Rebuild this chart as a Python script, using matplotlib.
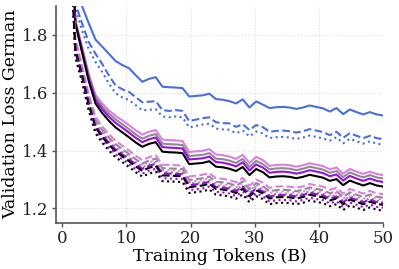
import matplotlib
matplotlib.use("Agg")
import matplotlib.pyplot as plt

plt.rcParams['font.family'] = ['DejaVu Serif']

tokens = [1.04, 2.08, 3.12, 4.17, 5.21, 6.25, 7.29, 8.33, 9.38, 10.42, 11.46, 12.5,
          13.54, 14.58, 15.62, 16.67, 17.71, 18.75, 19.79, 20.83, 21.88, 22.92, 23.96, 25.0,
          26.04, 27.08, 28.12, 29.17, 30.21, 31.25, 32.29, 33.33, 34.38, 35.42, 36.46, 37.5,
          38.54, 39.58, 40.62, 41.67, 42.71, 43.75, 44.79, 45.83, 46.88, 47.92, 48.96, 50.0]

blue_solid = [2.30, 2.02, 1.90, 1.84, 1.784, 1.76, 1.735, 1.71, 1.696, 1.685, 1.661, 1.638,
              1.648, 1.654, 1.621, 1.619, 1.618, 1.616, 1.587, 1.589, 1.591, 1.597, 1.578, 1.576,
              1.571, 1.563, 1.577, 1.549, 1.570, 1.559, 1.547, 1.550, 1.551, 1.549, 1.544, 1.549,
              1.556, 1.551, 1.546, 1.535, 1.547, 1.526, 1.542, 1.533, 1.525, 1.533, 1.525, 1.521]
blue_dashed = [2.20, 1.91, 1.84, 1.775, 1.735, 1.70, 1.66, 1.626, 1.612, 1.603, 1.585, 1.567,
               1.569, 1.571, 1.540, 1.537, 1.540, 1.537, 1.502, 1.507, 1.512, 1.515, 1.498, 1.495,
               1.494, 1.482, 1.491, 1.471, 1.488, 1.481, 1.465, 1.468, 1.469, 1.467, 1.462, 1.467,
               1.474, 1.469, 1.464, 1.453, 1.465, 1.444, 1.460, 1.451, 1.443, 1.451, 1.443, 1.439]
blue_dotted = [2.17, 1.89, 1.815, 1.75, 1.707, 1.672, 1.632, 1.598, 1.584, 1.575, 1.557, 1.539,
               1.541, 1.543, 1.518, 1.515, 1.518, 1.515, 1.480, 1.485, 1.490, 1.493, 1.476, 1.473,
               1.472, 1.460, 1.469, 1.449, 1.466, 1.459, 1.443, 1.446, 1.447, 1.445, 1.440, 1.445,
               1.452, 1.447, 1.442, 1.434, 1.446, 1.425, 1.441, 1.432, 1.424, 1.432, 1.424, 1.420]

orchid_solid = [2.35, 1.85, 1.76, 1.665, 1.593, 1.563, 1.539, 1.52, 1.505, 1.488, 1.47, 1.455,
                1.465, 1.471, 1.438, 1.436, 1.435, 1.433, 1.395, 1.397, 1.399, 1.405, 1.386, 1.384,
                1.379, 1.371, 1.385, 1.357, 1.378, 1.367, 1.347, 1.350, 1.351, 1.349, 1.344, 1.349,
                1.356, 1.351, 1.346, 1.335, 1.341, 1.320, 1.336, 1.327, 1.319, 1.327, 1.319, 1.315]
gray_solid = [2.35, 1.847, 1.754, 1.658, 1.584, 1.553, 1.528, 1.508, 1.491, 1.474, 1.456, 1.441,
              1.451, 1.457, 1.424, 1.422, 1.421, 1.419, 1.381, 1.383, 1.385, 1.391, 1.372, 1.370,
              1.365, 1.357, 1.371, 1.343, 1.364, 1.353, 1.335, 1.338, 1.339, 1.337, 1.332, 1.337,
              1.344, 1.339, 1.334, 1.323, 1.329, 1.308, 1.324, 1.315, 1.307, 1.315, 1.307, 1.303]
purple_solid = [2.35, 1.844, 1.748, 1.65, 1.575, 1.543, 1.517, 1.496, 1.479, 1.462, 1.444, 1.429,
                1.439, 1.445, 1.412, 1.410, 1.409, 1.407, 1.369, 1.371, 1.373, 1.379, 1.360, 1.358,
                1.353, 1.345, 1.359, 1.331, 1.352, 1.341, 1.323, 1.326, 1.327, 1.325, 1.320, 1.325,
                1.332, 1.327, 1.322, 1.311, 1.317, 1.296, 1.312, 1.303, 1.295, 1.303, 1.295, 1.291]
black_solid = [2.35, 1.84, 1.74, 1.64, 1.563, 1.53, 1.503, 1.48, 1.463, 1.446, 1.428, 1.413,
               1.423, 1.429, 1.396, 1.394, 1.393, 1.391, 1.353, 1.355, 1.357, 1.363, 1.344, 1.342,
               1.337, 1.329, 1.343, 1.315, 1.336, 1.325, 1.307, 1.310, 1.311, 1.309, 1.304, 1.309,
               1.316, 1.311, 1.306, 1.295, 1.301, 1.280, 1.296, 1.287, 1.279, 1.287, 1.279, 1.275]

orchid_dashed = [2.29, 1.787, 1.694, 1.594, 1.517, 1.484, 1.457, 1.434, 1.417, 1.400, 1.382, 1.367,
                 1.377, 1.384, 1.351, 1.350, 1.349, 1.348, 1.310, 1.313, 1.316, 1.322, 1.304, 1.302,
                 1.298, 1.290, 1.305, 1.278, 1.299, 1.289, 1.271, 1.275, 1.276, 1.275, 1.271, 1.276,
                 1.284, 1.279, 1.275, 1.264, 1.271, 1.251, 1.267, 1.259, 1.251, 1.260, 1.252, 1.249]
gray_dashed = [2.275, 1.773, 1.682, 1.582, 1.505, 1.472, 1.445, 1.422, 1.405, 1.388, 1.370, 1.355,
               1.365, 1.372, 1.339, 1.338, 1.337, 1.336, 1.298, 1.301, 1.304, 1.310, 1.292, 1.290,
               1.286, 1.278, 1.293, 1.266, 1.287, 1.277, 1.259, 1.263, 1.264, 1.263, 1.259, 1.264,
               1.272, 1.267, 1.263, 1.252, 1.259, 1.239, 1.255, 1.247, 1.239, 1.248, 1.240, 1.237]
orchid_dotted = [2.267, 1.766, 1.676, 1.576, 1.499, 1.466, 1.439, 1.416, 1.399, 1.382, 1.364, 1.349,
                 1.359, 1.366, 1.333, 1.332, 1.331, 1.330, 1.292, 1.295, 1.298, 1.304, 1.286, 1.284,
                 1.280, 1.272, 1.287, 1.260, 1.281, 1.271, 1.253, 1.257, 1.258, 1.257, 1.253, 1.258,
                 1.266, 1.261, 1.257, 1.246, 1.253, 1.233, 1.249, 1.241, 1.233, 1.242, 1.234, 1.231]
gray_dotted = [2.258, 1.758, 1.669, 1.569, 1.492, 1.459, 1.432, 1.409, 1.392, 1.375, 1.357, 1.342,
               1.352, 1.359, 1.326, 1.325, 1.324, 1.323, 1.285, 1.288, 1.291, 1.297, 1.279, 1.277,
               1.273, 1.265, 1.280, 1.253, 1.274, 1.264, 1.246, 1.250, 1.251, 1.250, 1.246, 1.251,
               1.259, 1.254, 1.250, 1.239, 1.246, 1.226, 1.242, 1.234, 1.226, 1.235, 1.227, 1.224]
purple_dashed = [2.252, 1.753, 1.664, 1.564, 1.487, 1.454, 1.427, 1.404, 1.387, 1.370, 1.352, 1.337,
                 1.347, 1.354, 1.321, 1.320, 1.319, 1.318, 1.280, 1.283, 1.286, 1.292, 1.274, 1.272,
                 1.268, 1.260, 1.275, 1.248, 1.269, 1.259, 1.241, 1.245, 1.246, 1.245, 1.241, 1.246,
                 1.254, 1.249, 1.245, 1.234, 1.241, 1.221, 1.237, 1.229, 1.221, 1.230, 1.222, 1.219]
black_dashed = [2.242, 1.745, 1.657, 1.557, 1.480, 1.447, 1.420, 1.397, 1.380, 1.363, 1.345, 1.330,
                1.340, 1.347, 1.314, 1.313, 1.312, 1.311, 1.273, 1.276, 1.279, 1.285, 1.267, 1.265,
                1.261, 1.253, 1.268, 1.241, 1.262, 1.252, 1.234, 1.238, 1.239, 1.238, 1.234, 1.239,
                1.247, 1.242, 1.238, 1.227, 1.234, 1.214, 1.230, 1.222, 1.214, 1.223, 1.215, 1.212]
purple_dotted = [2.229, 1.733, 1.647, 1.547, 1.470, 1.437, 1.410, 1.387, 1.370, 1.353, 1.335, 1.320,
                 1.330, 1.337, 1.304, 1.303, 1.302, 1.301, 1.263, 1.266, 1.269, 1.275, 1.257, 1.255,
                 1.251, 1.243, 1.258, 1.231, 1.252, 1.242, 1.224, 1.228, 1.229, 1.228, 1.224, 1.229,
                 1.237, 1.232, 1.228, 1.217, 1.224, 1.204, 1.220, 1.212, 1.204, 1.213, 1.205, 1.202]
black_dotted = [2.216, 1.722, 1.637, 1.537, 1.460, 1.427, 1.400, 1.377, 1.360, 1.343, 1.325, 1.310,
                1.320, 1.327, 1.294, 1.293, 1.292, 1.291, 1.253, 1.256, 1.259, 1.265, 1.247, 1.245,
                1.241, 1.233, 1.248, 1.221, 1.242, 1.232, 1.214, 1.218, 1.219, 1.218, 1.214, 1.219,
                1.227, 1.222, 1.218, 1.207, 1.214, 1.194, 1.210, 1.202, 1.194, 1.203, 1.195, 1.192]

x_ticks = [0, 10, 20, 30, 40, 50]
y_ticks = [1.2, 1.4, 1.6, 1.8]

BLUE = "#4a6ee0"
ORCHID = "#dd7ee0"
GRAY = "#8c8c8c"
PURPLE = "#9a0fe0"
BLACK = "#000000"

series = [
    (blue_solid, BLUE, "-"), (blue_dashed, BLUE, "--"), (blue_dotted, BLUE, ":"),
    (orchid_solid, ORCHID, "-"), (gray_solid, GRAY, "-"), (purple_solid, PURPLE, "-"),
    (black_solid, BLACK, "-"),
    (orchid_dashed, ORCHID, "--"), (gray_dashed, GRAY, "--"), (orchid_dotted, ORCHID, ":"),
    (gray_dotted, GRAY, ":"), (purple_dashed, PURPLE, "--"), (black_dashed, BLACK, "--"),
    (purple_dotted, PURPLE, ":"), (black_dotted, BLACK, ":"),
]

fig = plt.figure(figsize=(3.99, 2.69), dpi=100)
ax = fig.add_axes([0.1393, 0.172, 0.8214, 0.8053])

for vals, col, ls in series:
    ax.plot(tokens, vals, color=col, linestyle=ls, linewidth=1.5)

ax.set_xlim(-1, 50)
ax.set_ylim(1.15, 1.9)
ax.set_xticks(x_ticks)
ax.set_yticks(y_ticks)
ax.grid(True, color="#dddddd", linestyle=":", linewidth=0.8)
ax.set_axisbelow(True)
for s in ["top", "right"]:
    ax.spines[s].set_visible(False)
for s in ["left", "bottom"]:
    ax.spines[s].set_color("#555555")
    ax.spines[s].set_linewidth(1.2)
ax.tick_params(axis="both", labelsize=12, colors="#222222", length=3, width=1,
               color="#555555", pad=2)
ax.set_xlabel("Training Tokens (B)", fontsize=12.5, labelpad=1)
ax.set_ylabel("Validation Loss German", fontsize=12.5, labelpad=2)

fig.savefig("out.png", dpi=100)
